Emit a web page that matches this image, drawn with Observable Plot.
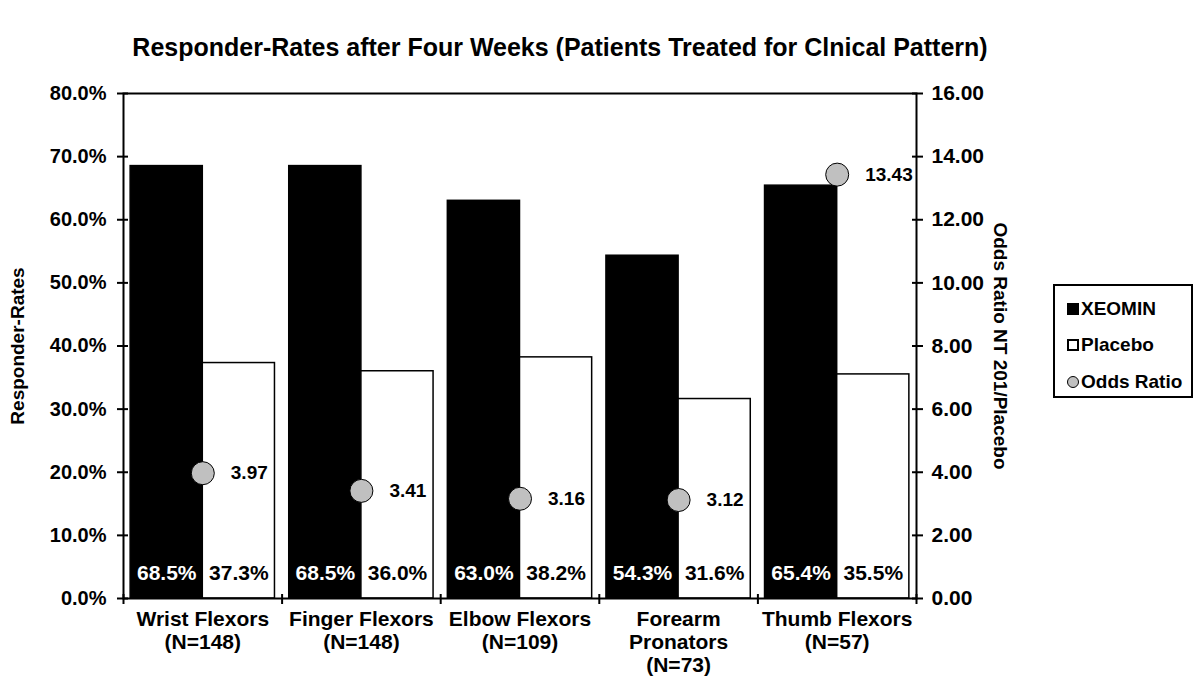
<!DOCTYPE html>
<html>
<head>
<meta charset="utf-8">
<script src="https://cdn.jsdelivr.net/npm/d3@7"></script>
<script src="https://cdn.jsdelivr.net/npm/@observablehq/plot@0.6"></script>
<style>
  body { margin: 0; background: #fff; font-family: "Liberation Sans", Arial, sans-serif; }
  #wrap { position: relative; width: 1198px; height: 685px; }
  #title { position: absolute; left: 0; top: 32px; width: 1120px; text-align: center; font-weight: bold; font-size: 25px; line-height: 30px; color: #000; }
  #chart { position: absolute; left: 0; top: 0; }
  #legend { position: absolute; left: 1053px; top: 284px; width: 136px; height: 110px; border: 2px solid #000; background: #fff; font-weight: bold; font-size: 19px; }
  .item { position: absolute; left: 12px; height: 24px; display: flex; align-items: center; white-space: nowrap; }
  .mk { display: inline-block; box-sizing: border-box; margin-right: 2px; }
</style>
</head>
<body>
<div id="wrap">
  <div id="chart"></div>
  <div id="title"></div>
  <div id="legend"></div>
</div>
<script>
// ---- data ----
const titleText = "Responder-Rates after Four Weeks (Patients Treated for Clnical Pattern)";
const categories = ["Wrist Flexors", "Finger Flexors", "Elbow Flexors", "Forearm Pronators", "Thumb Flexors"];
const categoryLabels = ["Wrist Flexors\n(N=148)", "Finger Flexors\n(N=148)", "Elbow Flexors\n(N=109)", "Forearm\nPronators\n(N=73)", "Thumb Flexors\n(N=57)"];
const seriesNames = ["XEOMIN", "Placebo"];
const xeominRates = [68.5, 68.5, 63.0, 54.3, 65.4];
const placeboRates = [37.3, 36.0, 38.2, 31.6, 35.5];
const oddsRatios = [3.97, 3.41, 3.16, 3.12, 13.43];
const leftTicks = [0, 10, 20, 30, 40, 50, 60, 70, 80];
const rightTicks = [0, 2, 4, 6, 8, 10, 12, 14, 16];
const leftLabel = "Responder-Rates";
const rightLabel = "Odds Ratio NT 201/Placebo";
const legendNames = ["XEOMIN", "Placebo", "Odds Ratio"];

// ---- derived tables ----
const leftMax = leftTicks[leftTicks.length - 1];
const rightMax = rightTicks[rightTicks.length - 1];
const orFactor = leftMax / rightMax; // maps odds ratio onto the percent scale
const pad = 0.045;
const bars = [];
categories.forEach((c, i) => {
  bars.push({cat: c, series: seriesNames[0], value: xeominRates[i], x1: i + pad, x2: i + 0.5});
  bars.push({cat: c, series: seriesNames[1], value: placeboRates[i], x1: i + 0.5, x2: i + 1 - pad});
});
const ors = categories.map((c, i) => ({cat: c, xc: i + 0.5, or: oddsRatios[i], yv: oddsRatios[i] * orFactor}));

document.getElementById("title").textContent = titleText;

const chart = Plot.plot({
  width: 1198,
  height: 685,
  marginTop: 93,
  marginBottom: 87,
  marginLeft: 123,
  marginRight: 282,
  x: {type: "linear", domain: [0, categories.length], axis: null},
  y: {domain: [0, leftMax], axis: null},
  color: {domain: seriesNames, range: ["#000000", "#ffffff"]},
  style: {fontFamily: "'Liberation Sans', Arial, sans-serif", fontSize: "20px", fontWeight: "bold", color: "#000", background: "transparent"},
  marks: [
    Plot.rectY(bars, {x1: "x1", x2: "x2", y: "value", fill: "series", stroke: "#000", strokeWidth: 1.5}),
    Plot.frame({stroke: "#000", strokeWidth: 2}),
    Plot.axisY({anchor: "left", ticks: leftTicks, tickFormat: d => d.toFixed(1) + "%", tickSize: 6, tickPadding: 11, label: null, strokeWidth: 2, fontSize: 20}),
    Plot.axisY({anchor: "left", ticks: leftTicks, tickFormat: () => "", tickSize: -5, label: null, strokeWidth: 2}),
    Plot.axisY({anchor: "right", ticks: rightTicks.map(t => t * orFactor), tickFormat: d => (d / orFactor).toFixed(2), tickSize: 6, tickPadding: 9, label: null, strokeWidth: 2, fontSize: 21}),
    Plot.axisY({anchor: "right", ticks: rightTicks.map(t => t * orFactor), tickFormat: () => "", tickSize: -5, label: null, strokeWidth: 2}),
    Plot.axisX({anchor: "bottom", ticks: d3.range(0, categories.length + 1), tickFormat: () => "", tickSize: 6, label: null, strokeWidth: 2}),
    Plot.axisX({anchor: "bottom", ticks: d3.range(0, categories.length + 1), tickFormat: () => "", tickSize: -4, label: null, strokeWidth: 2}),
    Plot.axisX({anchor: "bottom", ticks: categories.map((_, i) => i + 0.5), tickFormat: d => categoryLabels[Math.floor(d)], tickSize: 0, tickPadding: 11, label: null, lineHeight: 1.1, fontSize: 21}),
    Plot.text(bars.filter(d => d.series === seriesNames[0]), {x: d => (d.x1 + d.x2) / 2, frameAnchor: "bottom", dy: -19, text: d => d.value.toFixed(1) + "%", fill: "#fff", fontSize: 21}),
    Plot.text(bars.filter(d => d.series === seriesNames[1]), {x: d => (d.x1 + d.x2) / 2, frameAnchor: "bottom", dy: -19, text: d => d.value.toFixed(1) + "%", fill: "#000", fontSize: 21}),
    Plot.dot(ors, {x: "xc", y: "yv", r: 11.5, fill: "#c0c0c0", stroke: "#000", strokeWidth: 1}),
    Plot.text(ors, {x: "xc", y: "yv", text: d => d.or.toFixed(2), textAnchor: "start", dx: 28, fill: "#000", fontSize: 19}),
    Plot.text([leftLabel], {text: d => d, frameAnchor: "left", textAnchor: "middle", rotate: -90, dx: -106, fontSize: 19}),
    Plot.text([rightLabel], {text: d => d, frameAnchor: "right", textAnchor: "middle", rotate: 90, dx: 84, fontSize: 19})
  ]
});
document.getElementById("chart").appendChild(chart);

// ---- legend ----
const legend = document.getElementById("legend");
const markerStyles = [
  "width:12px;height:12px;background:#000;",
  "width:12px;height:12px;background:#fff;border:2px solid #000;",
  "width:12px;height:12px;background:#c0c0c0;border:1px solid #000;border-radius:50%;"
];
const rowTops = [11, 47, 84];
legendNames.forEach((name, i) => {
  const row = document.createElement("div");
  row.className = "item";
  row.style.top = rowTops[i] + "px";
  const mk = document.createElement("span");
  mk.className = "mk";
  mk.setAttribute("style", markerStyles[i]);
  row.appendChild(mk);
  row.appendChild(document.createTextNode(name));
  legend.appendChild(row);
});
</script>
</body>
</html>
